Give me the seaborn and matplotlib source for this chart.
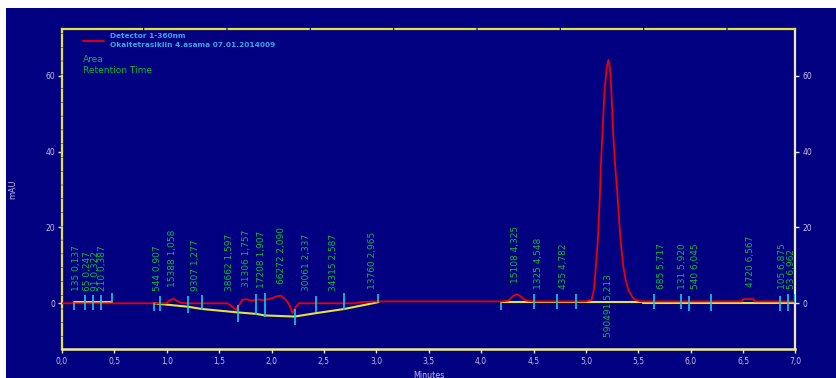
import numpy as np
import pandas as pd
import seaborn as sns
import matplotlib
matplotlib.use("Agg")
import matplotlib.pyplot as plt
from matplotlib.patches import Rectangle
from matplotlib.lines import Line2D

# Detector signal (minutes, mAU)
trace_t = [0.00, 0.99, 1.02, 1.06, 1.10, 1.14, 1.20,
           1.58, 1.62, 1.66, 1.69, 1.72, 1.76, 1.80, 1.84, 1.88, 1.93, 1.97,
           2.02, 2.06, 2.09, 2.11, 2.14, 2.17, 2.20, 2.23, 2.26,
           2.80, 2.85, 3.00, 4.20, 4.26, 4.30, 4.34, 4.38, 4.42, 4.46, 4.50,
           5.00, 5.054, 5.076, 5.095, 5.114, 5.134, 5.143, 5.156, 5.178, 5.200,
           5.215, 5.230, 5.242, 5.262, 5.280, 5.300, 5.330, 5.357, 5.380,
           5.405, 5.440, 5.470, 5.520, 6.49, 6.50, 6.60, 6.61, 7.00]
trace_mau = [0.0, 0.0, 0.6, 1.2, 0.6, 0.1, 0.0,
             0.0, -0.8, -1.8, -0.5, 0.9, 1.1, 0.7, 0.8, 1.0, 0.8, 1.1,
             1.5, 1.9, 2.0, 1.6, 0.8, -0.4, -2.6, -1.0, 0.0,
             0.0, 0.3, 0.5, 0.5, 0.7, 1.8, 2.4, 1.8, 0.8, 0.6, 0.5,
             0.5, 0.9, 3.5, 9.7, 16.7, 29.0, 36.5, 44.0, 56.3, 62.5,
             64.2, 62.0, 56.3, 44.0, 36.0, 29.0, 16.7, 9.7, 6.0,
             3.5, 1.8, 0.9, 0.5, 0.5, 1.1, 1.1, 0.5, 0.5]

# Integration baselines
base1_t = [0.115, 0.477]
base1_mau = [0.3, 0.3]
base2_t = [0.878, 0.94, 1.20, 1.336, 1.676, 1.854, 1.934, 2.22, 2.424, 2.694, 3.02]
base2_mau = [0.0, -0.2, -0.9, -1.5, -2.4, -2.8, -3.2, -3.5, -2.6, -1.5, 0.3]
base3_t = [4.186, 5.547, 5.547, 7.0]
base3_mau = [0.4, 0.4, 0.0, 0.0]

# Peak start / end markers
mark_t = [0.118, 0.216, 0.293, 0.375, 0.477, 0.878, 0.94, 1.20, 1.336, 1.676,
          1.854, 1.934, 2.22, 2.424, 2.694, 3.02, 4.186, 4.507, 4.726, 4.905,
          5.65, 5.91, 5.98, 6.195, 6.85, 6.93, 6.995]
mark_lo = [-1.8, -1.8, -1.8, -1.8, 0.4, -2.0, -2.1, -2.5, -1.9, -5.0,
           -3.2, -3.5, -5.6, -2.4, -1.8, 0.3, -1.7, -1.6, -1.6, -1.6,
           -1.6, -1.6, -2.0, -2.0, -2.0, -2.0, 0.2]
mark_hi = [0.2, 2.2, 2.2, 2.2, 2.6, 0.0, 2.0, 1.9, 2.1, -0.4,
           2.5, 2.8, -1.5, 1.9, 2.6, 2.5, 0.0, 2.4, 2.4, 2.4,
           2.4, 2.4, 1.9, 2.4, 2.0, 2.4, 2.4]

# Peak table: retention time and area
peak_rt = [0.137, 0.247, 0.322, 0.387, 0.907, 1.058, 1.277, 1.597, 1.757, 1.907,
           2.090, 2.337, 2.587, 2.965, 4.325, 4.548, 4.782, 5.213, 5.717, 5.920,
           6.045, 6.567, 6.875, 6.962]
peak_area = [135, 65, 91, 210, 544, 15388, 9307, 38662, 31306, 17208,
             66272, 30061, 34315, 13760, 15108, 1325, 435, 590491, 685, 131,
             540, 4720, 105, 53]

x_ticks = [0.0, 0.5, 1.0, 1.5, 2.0, 2.5, 3.0, 3.5, 4.0, 4.5, 5.0, 5.5, 6.0, 6.5, 7.0]
y_ticks = [0, 20, 40, 60]

NAVY = "#000080"
RED = "#ee0000"
YELLOW = "#e6e23a"
CYAN = "#19c8e6"
GREEN = "#10b83c"
LAVENDER = "#c8b8e8"
LEGEND_BLUE = "#3aa6e6"

sns.set_style("dark")
plt.rcParams["font.family"] = ["DejaVu Sans"]

fig = plt.figure(figsize=(8.37, 3.78), dpi=100)
fig.patch.set_facecolor("white")
fig.patches.append(Rectangle((6 / 837, 0), 1 - 6 / 837, 1 - 8 / 378,
                             transform=fig.transFigure, facecolor=NAVY,
                             edgecolor="none", zorder=-10))

ax = fig.add_axes([62 / 837, 29 / 378, 733.5 / 837, 320 / 378])
ax.set_facecolor(NAVY)
ax.grid(False)

trace = pd.DataFrame({"t": trace_t, "mAU": trace_mau})
sns.lineplot(data=trace, x="t", y="mAU", ax=ax, color=RED, lw=1.3,
             estimator=None, sort=False, zorder=4)

for bt, bv in [(base1_t, base1_mau), (base2_t, base2_mau), (base3_t, base3_mau)]:
    seg = pd.DataFrame({"t": bt, "mAU": bv})
    sns.lineplot(data=seg, x="t", y="mAU", ax=ax, color=YELLOW, lw=1.5,
                 estimator=None, sort=False, zorder=3)

ax.vlines(mark_t, mark_lo, mark_hi, colors=CYAN, lw=1.2, zorder=5)

# Peak annotations: "area rt" in vertical text above each apex
for rt, area in zip(peak_rt, peak_area):
    apex = float(np.interp(rt, trace_t, trace_mau))
    txt = f"{area} {rt:.3f}".replace(".", ",")
    if apex > 20:
        ax.text(rt, -0.6, txt, rotation=90, ha="center", va="center",
                color=GREEN, fontsize=6.5, zorder=6)
    else:
        ax.text(rt, max(apex, 0) + 3.2, txt, rotation=90, ha="center", va="bottom",
                color=GREEN, fontsize=6.5, zorder=6)

ax.set_xlim(0, 7)
ax.set_ylim(-12.06, 72.37)
ax.set_xticks(x_ticks)
ax.set_xticklabels([f"{v:.1f}".replace(".", ",") for v in x_ticks])
ax.set_yticks(y_ticks)
ax.set_yticklabels([str(v) for v in y_ticks])
ax.tick_params(axis="x", direction="out", length=3, width=1, color="#e8e8c8",
               labelsize=5.5, labelcolor=LAVENDER, pad=3, bottom=True)
ax.tick_params(axis="y", direction="out", length=3, width=1, color="#e8e8e8",
               labelsize=5.5, labelcolor=LAVENDER, pad=2, left=True,
               right=True, labelright=True)
ax.set_xlabel("Minutes", color=LAVENDER, fontsize=5.8, labelpad=3)
ax.set_ylabel("mAU", color=LAVENDER, fontsize=5.8, labelpad=20)

for side in ["left", "top"]:
    ax.spines[side].set_visible(True)
    ax.spines[side].set_color(YELLOW)
    ax.spines[side].set_linewidth(1.6)
ax.spines["left"].set_linestyle((0, (5, 1.2)))
ax.spines["top"].set_linestyle((0, (36, 1.5)))
ax.spines["bottom"].set_visible(True)
ax.spines["bottom"].set_color("#f0ec90")
ax.spines["bottom"].set_linewidth(1.8)
ax.spines["right"].set_visible(True)
ax.spines["right"].set_color("#ecebbc")
ax.spines["right"].set_linewidth(1.6)

# Header block
fig.add_artist(Line2D([83 / 837, 104 / 837], [1 - 40.7 / 378] * 2,
                      transform=fig.transFigure, color=RED, lw=1.3))
fig.text(110 / 837, 1 - 35.7 / 378, "Detector 1-360nm", color=LEGEND_BLUE,
         fontsize=5.3, fontweight="bold", va="center", ha="left")
fig.text(110 / 837, 1 - 45.3 / 378, "Okaltetrasiklin 4.asama 07.01.2014009",
         color=LEGEND_BLUE, fontsize=5.3, fontweight="bold", va="center", ha="left")
fig.text(83 / 837, 1 - 59 / 378, "Area", color=GREEN, fontsize=6.5,
         va="center", ha="left")
fig.text(83 / 837, 1 - 70.7 / 378, "Retention Time", color=GREEN, fontsize=6.5,
         va="center", ha="left")

fig.savefig("out.png", dpi=100, facecolor=fig.get_facecolor())
